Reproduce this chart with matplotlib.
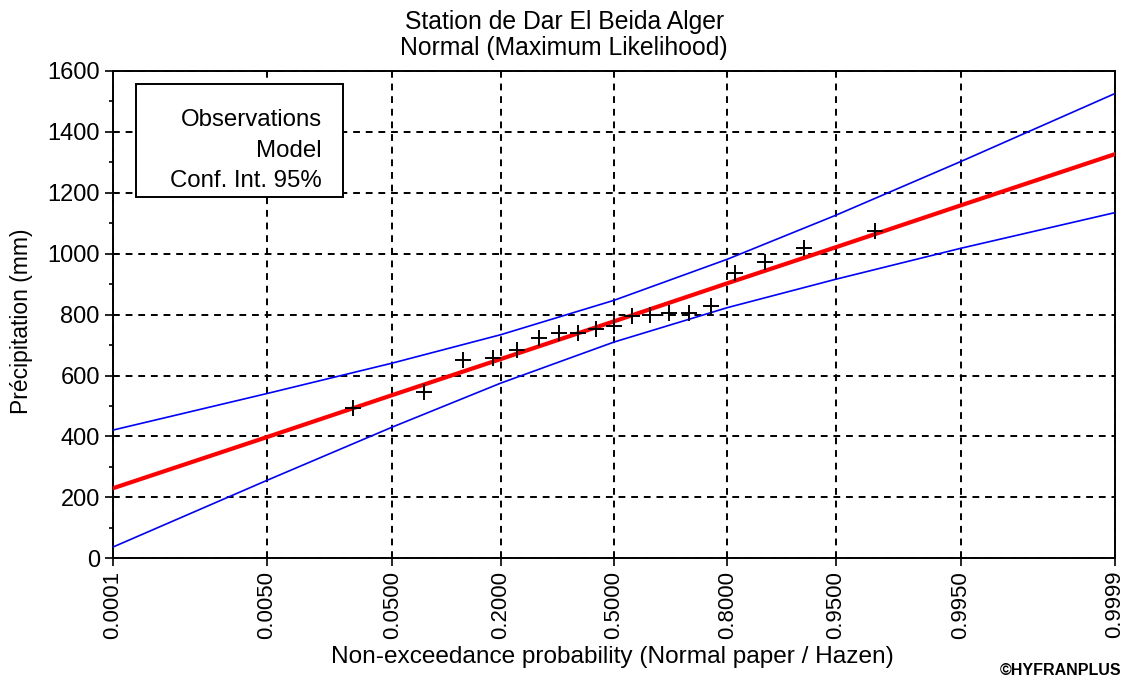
import matplotlib
matplotlib.use("Agg")
import matplotlib.pyplot as plt
from matplotlib.ticker import MultipleLocator
from matplotlib.patches import Rectangle
from statistics import NormalDist

plt.rcParams['font.family'] = ['Liberation Sans', 'DejaVu Sans']

# observed annual precipitation (mm), sorted
precip = [493, 547, 651, 659, 684, 723, 739, 739, 753, 763,
          794, 799, 805, 807, 829, 936, 974, 1020, 1073]

# probability ticks of the normal paper
tick_probs = [0.0001, 0.005, 0.05, 0.2, 0.5, 0.8, 0.95, 0.995, 0.9999]
tick_labels = ["0.0001", "0.0050", "0.0500", "0.2000", "0.5000",
               "0.8000", "0.9500", "0.9950", "0.9999"]

# fitted model and 95% confidence interval read at the tick probabilities
model = [230, 398, 536, 654, 778, 903, 1021, 1159, 1327]
ci_upper = [421, 541, 641, 734, 847, 982, 1126, 1303, 1526]
ci_lower = [37, 256, 431, 575, 710, 823, 916, 1018, 1135]

nd = NormalDist()
n = len(precip)
hazen = [(i - 0.5) / n for i in range(1, n + 1)]
z_obs = [nd.inv_cdf(p) for p in hazen]
z_ticks = [nd.inv_cdf(p) for p in tick_probs]

fig = plt.figure(figsize=(11.26, 6.8), dpi=100)
ax = fig.add_axes([0.1004, 0.179, 0.8898, 0.7166])

ax.plot(z_ticks, ci_upper, color='#0000ff', lw=1.2, zorder=3)
ax.plot(z_ticks, ci_lower, color='#0000ff', lw=1.2, zorder=3)
ax.plot(z_ticks, model, color='#ff0000', lw=3.0, zorder=4)
ax.plot(z_obs, precip, linestyle='none', marker='+', color='black',
        markersize=11, markeredgewidth=1.4, zorder=5)

ax.set_xlim(z_ticks[0], z_ticks[-1])
ax.set_ylim(0, 1600)
ax.set_xticks(z_ticks)
ax.set_xticklabels(tick_labels, rotation=90, fontsize=16)
ax.yaxis.set_major_locator(MultipleLocator(200))
ax.yaxis.set_minor_locator(MultipleLocator(100))
ax.tick_params(axis='y', which='major', labelsize=17, length=6, width=1.2)
ax.tick_params(axis='y', which='minor', length=3, width=1.2)
ax.tick_params(axis='x', length=6, width=1.2, pad=3)

ax.grid(True, color='black', linestyle=(0, (3.5, 3)), linewidth=1.4)
for s in ax.spines.values():
    s.set_linewidth(1.4)

# legend-like text box (white, hides the grid behind it)
ax.add_patch(Rectangle((0.0229, 0.742), 0.207, 0.231, transform=ax.transAxes,
                       facecolor='white', edgecolor='black', linewidth=1.4,
                       zorder=6))
leg = ["Observations", "Model", "Conf. Int. 95%"]
for k, t in enumerate(leg):
    ax.text(0.2085, 0.887 - k * 0.063, t, transform=ax.transAxes,
            ha='right', va='baseline', fontsize=17.3, zorder=7)

fig.text(0.501, 0.9574, "Station de Dar El Beida Alger", ha='center',
         va='baseline', fontsize=17.8)
fig.text(0.501, 0.919, "Normal (Maximum Likelihood)", ha='center',
         va='baseline', fontsize=17.8)
fig.text(0.019, 0.528, "Précipitation (mm)", rotation=90, ha='center',
         va='center', fontsize=16.5)
fig.text(0.544, 0.034, "Non-exceedance probability (Normal paper / Hazen)",
         ha='center', va='center', fontsize=17.6)
fig.text(0.996, 0.008, "©HYFRANPLUS", ha='right', va='baseline',
         fontsize=11.5, fontweight='bold')

fig.savefig("out.png", dpi=100)
